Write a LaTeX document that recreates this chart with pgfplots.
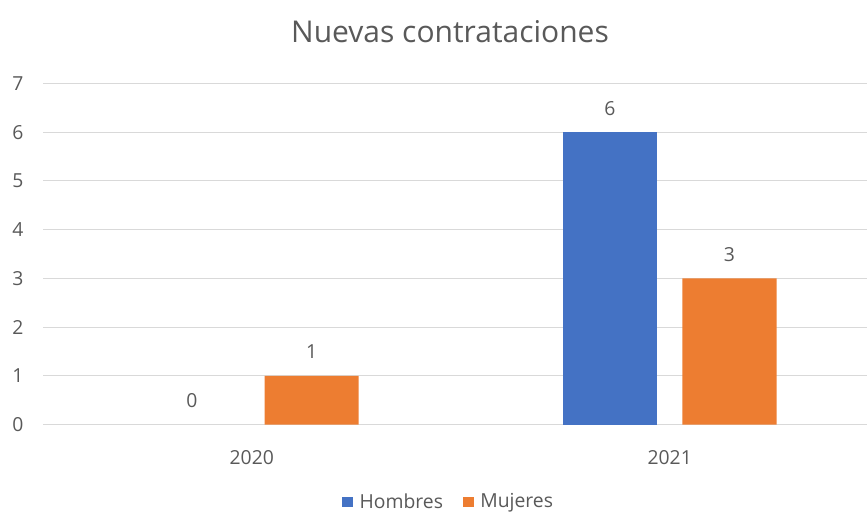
\documentclass[border=0pt]{standalone}
\usepackage{fontspec}
\setmainfont{Open Sans}
\usepackage{pgfplots}
\pgfplotsset{compat=1.18}
\definecolor{cBlue}{HTML}{4472C4}
\definecolor{cOrange}{HTML}{ED7D31}
\definecolor{cGrid}{HTML}{D9D9D9}
\definecolor{cText}{HTML}{595959}
\begin{document}
\begin{tikzpicture}
\path[use as bounding box] (0,0) rectangle (650.25pt,385.5pt);
\begin{axis}[
  at={(32.5pt,67.1pt)}, anchor=south west,
  scale only axis, width=617.75pt, height=255.75pt,
  xmin=-0.4987, xmax=1.472, ymin=0, ymax=7,
  ybar, bar width=0.225,
  axis line style={draw=none},
  xtick={0,1}, xticklabels={2020,2021},
  ytick={0,1,...,7},
  major tick length=0pt,
  ymajorgrids, grid style={cGrid, line width=0.75pt},
  /pgf/number format/assume math mode=true,
  ticklabel style={font=\fontsize{14.5}{17}\selectfont, text=cText},
  xticklabel style={anchor=center, yshift=-24.75pt},
  yticklabel style={anchor=center, xshift=-19pt},
  nodes near coords,
  every node near coord/.append style={font=\fontsize{14.5}{17}\selectfont, text=cText, anchor=center, yshift=18pt},
  legend style={at={(axis description cs:0.4925,0)}, yshift=-58pt, anchor=center, draw=none, legend columns=2,
    font=\fontsize{14.5}{17}\selectfont, text=cText,
    /tikz/every odd column/.append style={column sep=3pt},
    /tikz/every even column/.append style={column sep=13pt}},
  legend image code/.code={\fill[#1] (0pt,-4pt) rectangle (8pt,4pt);},
  clip=false,
]
\addplot[fill=cBlue, draw=none, bar shift=-0.143] coordinates {(1,6)};
\addplot[fill=cOrange, draw=none, bar shift=0.143] coordinates {(0,1) (1,3)};
\addplot[fill=none, draw=none, bar shift=-0.143, forget plot] coordinates {(0,0)};
\legend{Hombres, Mujeres}
\end{axis}
\node[text=cText, font=\fontsize{22.5}{26}\selectfont] at (337.5pt,361.5pt) {Nuevas contrataciones};
\end{tikzpicture}
\end{document}
